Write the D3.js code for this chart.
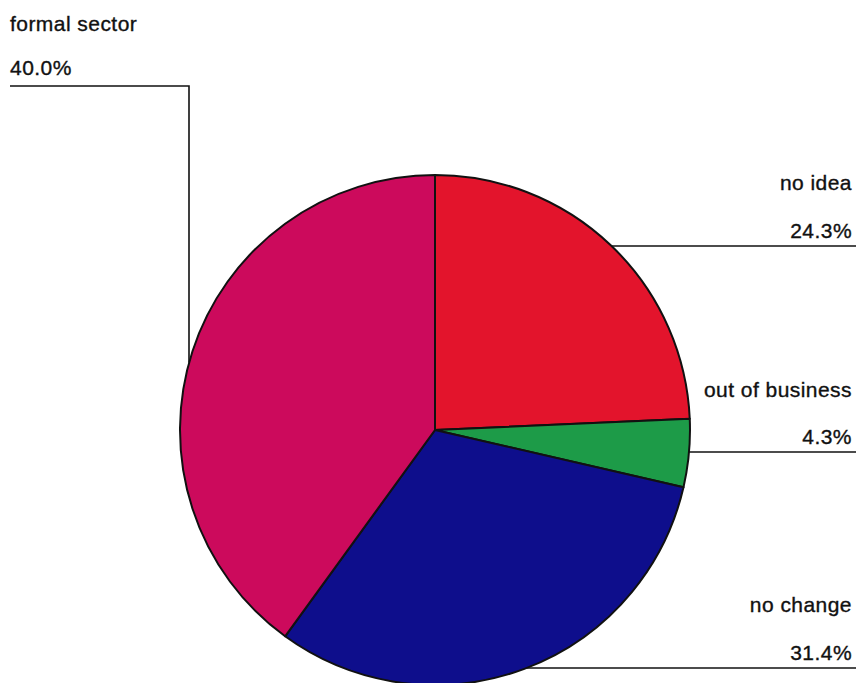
<!DOCTYPE html>
<html>
<head>
<meta charset="utf-8">
<script src="https://cdn.jsdelivr.net/npm/d3@7/dist/d3.min.js"></script>
<style>
  html, body { margin: 0; padding: 0; background: #fff; }
  svg { display: block; }
  text { font-family: "Liberation Sans", Arial, sans-serif; font-size: 21px; letter-spacing: 0.45px; fill: #111; stroke: #111; stroke-width: 0.35px; }
</style>
</head>
<body>
<svg id="chart" width="856" height="683"></svg>
<script>
// Survey answers, clockwise from 12 o'clock
const categories = ["no idea", "out of business", "no change", "formal sector"];
const shares = [24.3, 4.3, 31.4, 40.0];
const colors = ["#e3142c", "#1d9b48", "#0e0e8c", "#cc0a5c"];

const svg = d3.select("#chart");
const cx = 435, cy = 430, r = 255;

const pie = d3.pie().sort(null).value(d => d.value);
const arcs = pie(categories.map((c, i) => ({ name: c, value: shares[i], color: colors[i] })));
const arc = d3.arc().innerRadius(0).outerRadius(r);

const g = svg.append("g").attr("transform", `translate(${cx},${cy})`);
g.selectAll("path").data(arcs).join("path")
  .attr("d", arc)
  .attr("fill", d => d.data.color)
  .attr("stroke", "#111")
  .attr("stroke-width", 2)
  .attr("stroke-linejoin", "round");

// x on the rim for a given y, on the right (+1) or left (-1) side
const rimXAtY = (y, side) => cx + side * Math.sqrt(Math.max(0, r * r - (y - cy) * (y - cy)));

// Right-side labels aligned to the right edge with a horizontal rule underneath
const rightLabels = [
  { i: 0, nameY: 190, valY: 238, lineY: 246 },
  { i: 1, nameY: 397, valY: 444, lineY: 452 },
  { i: 2, nameY: 612, valY: 660, lineY: 668 }
];
const rightX = 852;
rightLabels.forEach(l => {
  const d = arcs[l.i];
  svg.append("text").attr("x", rightX).attr("y", l.nameY).attr("text-anchor", "end").text(d.data.name);
  svg.append("text").attr("x", rightX).attr("y", l.valY).attr("text-anchor", "end").text(d3.format(".1f")(d.data.value) + "%");
  const x0 = rimXAtY(l.lineY, 1);
  svg.append("line").attr("x1", x0).attr("y1", l.lineY).attr("x2", 856).attr("y2", l.lineY)
    .attr("stroke", "#111").attr("stroke-width", 1.6);
});

// Left label with an elbow leader running down to the rim
{
  const d = arcs[3];
  svg.append("text").attr("x", 10).attr("y", 31).text(d.data.name);
  svg.append("text").attr("x", 10).attr("y", 75).text(d3.format(".1f")(d.data.value) + "%");
  const elbowX = 189, lineY = 86;
  const yRim = cy - Math.sqrt(r * r - (cx - elbowX) * (cx - elbowX));
  svg.append("path")
    .attr("d", `M10,${lineY} H${elbowX} V${yRim}`)
    .attr("fill", "none").attr("stroke", "#111").attr("stroke-width", 1.6);
}
</script>
</body>
</html>
